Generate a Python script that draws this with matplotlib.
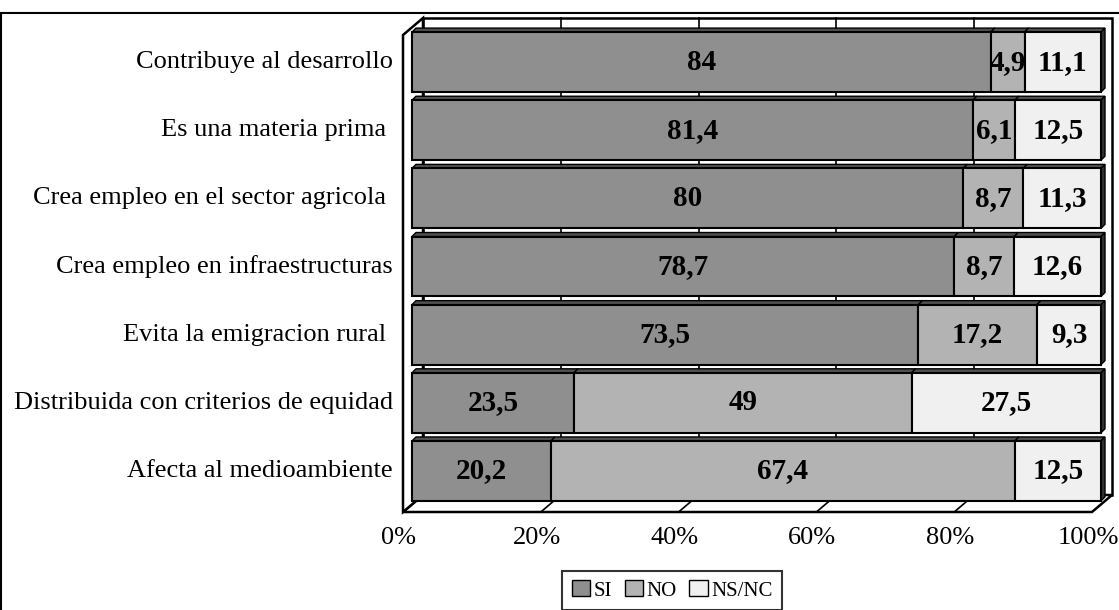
import matplotlib
matplotlib.use("Agg")
import matplotlib.pyplot as plt
import matplotlib.transforms as mtransforms
from matplotlib.patches import Rectangle, Polygon, Patch

plt.rcParams["font.family"] = ["Liberation Serif", "DejaVu Serif"]

CATEGORIES = [
    "Contribuye al desarrollo",
    "Es una materia prima ",
    "Crea empleo en el sector agricola ",
    "Crea empleo en infraestructuras",
    "Evita la emigracion rural ",
    "Distribuida con criterios de equidad",
    "Afecta al medioambiente",
]
SI    = [84, 81.4, 80, 78.7, 73.5, 23.5, 20.2]
NO    = [4.9, 6.1, 8.7, 8.7, 17.2, 49, 67.4]
NSNC  = [11.1, 12.5, 11.3, 12.6, 9.3, 27.5, 12.5]
SERIES = ["SI", "NO", "NS/NC"]
TICKS = [0, 20, 40, 60, 80, 100]

COLORS   = ["#8f8f8f", "#b3b3b3", "#f0f0f0"]
TOP_CLR  = "#505050"
SIDE_CLR = "#303030"

W, H = 1119, 610
fig = plt.figure(figsize=(W / 100, H / 100), dpi=100)
# front plane of the 3d box: 0% -> 403px, 100% -> 1092px, top 35px, floor 512px
ax = fig.add_axes([403 / W, 1 - 512 / H, (1092 - 403) / W, (512 - 35) / H])
n = len(CATEGORIES)
ax.set_xlim(0, 100)
ax.set_ylim(n - 0.5, -0.5)
ax.axis("off")

# pixel -> data unit helpers
sx = (1092 - 403) / 100
sy = (512 - 35) / n
def dx(px):
    return px / sx
def dy(px):   # px upwards on screen
    return -px / sy

wx, wy = dx(20), dy(17)     # wall depth
bx, by = dx(9), dy(7)       # bar front offset
ex, ey = dx(4), dy(4)       # bar depth

lw_wall = 1.8
top, bot = -0.5, n - 0.5

# back wall
ax.add_patch(Rectangle((wx, top + wy), 100, n, facecolor="white",
                       edgecolor="black", lw=lw_wall, zorder=1, clip_on=False))
# floor
ax.add_patch(Polygon([(0, bot), (100, bot), (100 + wx, bot + wy), (wx, bot + wy)],
                     closed=True, facecolor="white", edgecolor="black",
                     lw=lw_wall, zorder=1, clip_on=False))
# side wall
ax.add_patch(Polygon([(0, top), (wx, top + wy), (wx, bot + wy), (0, bot)],
                     closed=True, facecolor="white", edgecolor="black",
                     lw=lw_wall, zorder=1, clip_on=False))
# grid on back wall and floor
for t in TICKS[1:-1]:
    ax.plot([t + wx, t + wx], [top + wy, bot + wy], color="black", lw=1.2,
            zorder=2, clip_on=False)
    ax.plot([t, t + wx], [bot, bot + wy], color="black", lw=1.2,
            zorder=2, clip_on=False)

# bars
h = 0.88
for i in range(n):
    vals = [SI[i], NO[i], NSNC[i]]
    total = sum(vals)
    left = 0
    yt = i - h / 2 + by
    yb = i + h / 2 + by
    for j, v in enumerate(vals):
        w = v / total * 100
        x0 = left + bx
        x1 = left + w + bx
        ax.add_patch(Rectangle((x0, yt), w, h, facecolor=COLORS[j],
                               edgecolor="black", lw=1.5, zorder=5, clip_on=False))
        ax.add_patch(Polygon([(x0, yt), (x1, yt), (x1 + ex, yt + ey), (x0 + ex, yt + ey)],
                             closed=True, facecolor=TOP_CLR, edgecolor="black",
                             lw=1.0, zorder=4, clip_on=False))
        ax.text(x0 + w / 2, i + by, f"{v:g}".replace(".", ","), ha="center",
                va="center", fontsize=21, fontweight="bold", zorder=7)
        left += w
    x1 = 100 + bx
    ax.add_patch(Polygon([(x1, yt), (x1 + ex, yt + ey), (x1 + ex, yb + ey), (x1, yb)],
                         closed=True, facecolor=SIDE_CLR, edgecolor="black",
                         lw=1.0, zorder=4, clip_on=False))

# category labels
lab_tr = mtransforms.offset_copy(ax.transData, fig=fig, x=-10, y=7, units="dots")
for i, c in enumerate(CATEGORIES):
    ax.text(0, i, c, ha="right", va="center", fontsize=19, transform=lab_tr)

# x tick labels
tick_tr = mtransforms.offset_copy(ax.transData, fig=fig, x=-4, y=-26, units="dots")
for t in TICKS:
    ax.text(t, bot, f"{t}%", ha="center", va="center", fontsize=19, transform=tick_tr)

# legend
handles = [Patch(facecolor=COLORS[k], edgecolor="black", lw=1.0, label=s)
           for k, s in enumerate(SERIES)]
leg = fig.legend(handles=handles, ncol=3, loc="upper center",
                 bbox_to_anchor=(672 / W, 1 - 571 / H), fontsize=15,
                 frameon=True, fancybox=False, edgecolor="black",
                 handlelength=0.9, handleheight=0.8, handletextpad=0.15,
                 columnspacing=0.6, borderpad=0.45, borderaxespad=0)
leg.get_frame().set_linewidth(1.5)

# outer chart frame
fig.add_artist(Rectangle((1 / W, -0.1), 1.2, 1.1 - 13 / H, transform=fig.transFigure,
                         facecolor="none", edgecolor="black", lw=1.5, clip_on=False))

fig.savefig("out.png", dpi=100)
